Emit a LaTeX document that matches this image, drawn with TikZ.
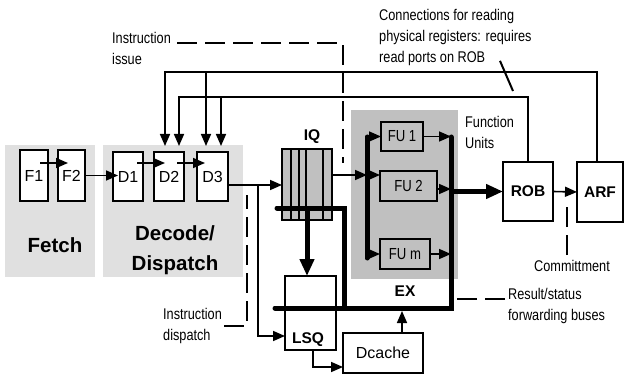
\documentclass[tikz,border=0pt]{standalone}
\usepackage{fontspec}
\setmainfont{Liberation Sans}
\newfontfamily\narrowfont[FakeStretch=0.82]{Liberation Sans}
\definecolor{PipeLight}{HTML}{E0E0E0}
\definecolor{PipeGray}{HTML}{C0C0C0}
\definecolor{PipeBlack}{HTML}{000000}
\definecolor{PipeWhite}{HTML}{ffffff}
\usetikzlibrary{arrows.meta, positioning, calc}
\tikzset{
    % Stage backgrounds
    stage/.style={
        rectangle,
        fill=PipeLight,
        draw=none,
        inner sep=0pt,
        outer sep=0pt
    },
    stage gray/.style={
        stage,
        fill=PipeGray
    },
    % Boxes with sharp corners
    component/.style={
        rectangle,
        draw=PipeBlack,
        fill=PipeWhite,
        line width=2pt,
        inner sep=0pt,
        outer sep=0pt,
        font=\fontsize{16}{18}\selectfont
    },
    component gray/.style={
        component,
        fill=PipeGray,
        font=\narrowfont\fontsize{16}{18}\selectfont
    },
    component bold/.style={
        component,
        font=\bfseries\fontsize{15.5}{18}\selectfont
    },
    stage label/.style={
        inner sep=0pt,
        align=center,
        font=\bfseries\fontsize{20.5}{30}\selectfont
    },
    unit label/.style={
        inner sep=0pt,
        font=\bfseries\fontsize{15.5}{18}\selectfont
    },
    note/.style={
        inner sep=0pt,
        align=left,
        font=\narrowfont\fontsize{15.5}{21}\selectfont
    },
    arrow style/.style={
        -{Triangle[length=12pt,width=10pt]},
        line width=1.6pt,
        PipeBlack
    },
    bus style/.style={
        line width=5pt,
        line cap=round,
        PipeBlack
    },
    bus arrow/.style={
        bus style,
        line cap=butt,
        -{Triangle[length=17pt,width=14pt]}
    },
    pointer style/.style={
        line width=2pt,
        dash pattern=on 20pt off 8pt,
        PipeBlack
    }
}

\begin{document}
\begin{tikzpicture}[x=1pt, y=-1pt]
        \useasboundingbox (0,0) rectangle (624,377);

        % Stage backgrounds
        \node[stage, minimum width=90pt, minimum height=132pt] (fetch) at (50,211) {};
        \node[stage, minimum width=140pt, minimum height=132pt] (decode) at (173,211) {};
        \node[stage gray, minimum width=107pt, minimum height=169pt] (ex) at (404.5,194.5) {};
        \node[stage label] (fetchtext) at (55,245) {Fetch};
        \node[stage label] (decodetext) at (175,250) {Decode/\\Dispatch};
        \node[unit label] (extext) at (405,291) {EX};

        % Pipeline boxes
        \node[component, minimum width=28pt, minimum height=51pt] (F1) at (34,175.5) {F1};
        \node[component, minimum width=27pt, minimum height=51pt] (F2) at (71.5,175.5) {F2};
        \node[component, minimum width=30pt, minimum height=49pt] (D1) at (128,176.5) {D1};
        \node[component, minimum width=30pt, minimum height=49pt] (D2) at (169,176.5) {D2};
        \node[component, minimum width=31pt, minimum height=49pt] (D3) at (212.5,176.5) {D3};

        % Issue queue and load/store queue
        \node[component, fill=PipeGray, minimum width=50pt, minimum height=71pt] (IQ) at (307,184.5) {};
        \foreach \dx in {-16,-8,-1,16}
            \draw[line width=1.6pt] ([xshift=\dx pt]IQ.north) -- ([xshift=\dx pt]IQ.south);
        \node[unit label] (iqtext) at (312,137) {IQ};
        \node[component, minimum width=51pt, minimum height=74pt] (LSQ) at (310.5,313) {};
        \node[unit label] (lsqtext) at (308,340) {LSQ};
        \node[component, minimum width=80pt, minimum height=40pt] (dcache) at (383,353) {Dcache};

        % Function units
        \node[component gray, minimum width=42pt, minimum height=29pt] (FU1) at (402,136.5) {FU 1};
        \node[component gray, minimum width=57pt, minimum height=30pt] (FU2) at (408.5,186) {FU 2};
        \node[component gray, minimum width=50pt, minimum height=30pt] (FUm) at (405,254) {FU m};

        % Reorder buffer and register file
        \node[component bold, minimum width=50pt, minimum height=59pt] (ROB) at (528,191.5) {ROB};
        \node[component bold, minimum width=46pt, minimum height=60pt] (ARF) at (600,192) {ARF};

        % Notes
        \node[note, anchor=north west] (readnote) at (379,9) {Connections for reading\\physical registers: requires\\read ports on ROB};
        \node[note, anchor=north west] (issue) at (112,32) {Instruction\\issue};
        \node[note, anchor=north west] (fulabel) at (465,116) {Function\\Units};
        \node[note, anchor=north west] (dispatch) at (163,308) {Instruction\\dispatch};
        \node[note, anchor=north west] (result) at (508,288) {Result/status\\forwarding buses};
        \node[note] (commit) at (572,266) {Committment};

        % Helper points
        \coordinate (railA) at (0,72);
        \coordinate (railB) at (0,97);
        \coordinate (d2a) at ([shift={(-4pt,6pt)}]D2.north);
        \coordinate (d2b) at ([shift={(10pt,6pt)}]D2.north);
        \coordinate (d3a) at ([shift={(-6.5pt,6pt)}]D3.north);
        \coordinate (d3b) at ([shift={(8.5pt,6pt)}]D3.north);
        \coordinate (dsplit) at (258,185);
        \coordinate (inIQ) at (367,175);
        \coordinate (inT) at (367,137);
        \coordinate (inB) at (367,258);
        \coordinate (outT) at (451,137);
        \coordinate (busL) at (275,308);
        \coordinate (busC) at (344,308);
        \coordinate (iqtap) at (277,208);
        \coordinate (issueend) at (343,163);
        \coordinate (dispatchend) at (247,195);
        \coordinate (resultend) at (455,299);
        \coordinate (commitend) at (567,205);
        \coordinate (readend) at (513,91);

        % Fetch and decode
        \draw[arrow style] ([shift={(6pt,12.5pt)}]F1.center) -- ([shift={(-3.5pt,12.5pt)}]F2.center);
        \draw[arrow style] (F2.east) -- ([xshift=5pt]D1.west |- F2.east);
        \draw[arrow style] ([shift={(9pt,13.5pt)}]D1.center) -- ([shift={(-4pt,13.5pt)}]D2.center);
        \draw[arrow style] ([shift={(8pt,13.5pt)}]D2.center) -- ([shift={(-7.5pt,13.5pt)}]D3.center);

        % Register read ports
        \draw[arrow style] ([xshift=-3pt]ARF.north) |- (d2a |- railA) -- (d2a);
        \draw[arrow style] (d3a |- railA) -- (d3a);
        \draw[arrow style] (ROB.north) |- (d2b |- railB) -- (d2b);
        \draw[arrow style] (d3b |- railB) -- (d3b);

        % Dispatch and issue
        \draw[arrow style] (D3.east |- dsplit) -- (IQ.west |- dsplit);
        \draw[arrow style] (dsplit) |- ([yshift=-23pt]LSQ.west);
        \draw[arrow style] (IQ.east |- inIQ) -- (inIQ);
        \draw[arrow style] (inIQ) -- (FU2.west |- inIQ);
        \draw[bus style] (inT) -- (inB);
        \draw[arrow style] (FU1.west -| inT) -- (FU1.west);
        \draw[arrow style] (FUm.west -| inT) -- (FUm.west);

        % Results and forwarding
        \draw[arrow style] (FU1.east) -- (FU1.east -| outT);
        \draw[arrow style] ([yshift=-3pt]FU2.east) -- ([yshift=-3pt]FU2.east -| outT);
        \draw[arrow style] (FUm.east) -- (FUm.east -| outT);
        \draw[bus style] (outT) |- (busL);
        \draw[bus style] (iqtap) -| (busC);
        \draw[bus arrow] (IQ.center |- iqtap) -- (IQ.center |- LSQ.north);
        \draw[bus arrow] (ROB.west -| outT) -- (ROB.west);
        \draw[arrow style] (ROB.east) -- (ARF.west);

        % Memory
        \draw[arrow style] ([xshift=2.5pt]LSQ.south) |- ([yshift=-14pt]dcache.west);
        \draw[arrow style] ([xshift=19pt]dcache.north) -- ([shift={(19pt,22pt)}]dcache.north);

        % Note pointers
        \draw[pointer style] ([shift={(6pt,-11pt)}]issue.north east) -| (issueend);
        \draw[pointer style] ([shift={(2pt,-18pt)}]dispatch.north east) -| (dispatchend);
        \draw[pointer style] ([shift={(-3pt,-11pt)}]result.north west) -- (resultend);
        \draw[pointer style] ([shift={(-5pt,5pt)}]commit.north) -- (commitend);
        \draw[line width=2pt] ([shift={(121pt,5pt)}]readnote.south west) -- (readend);
    \end{tikzpicture}
\end{document}
